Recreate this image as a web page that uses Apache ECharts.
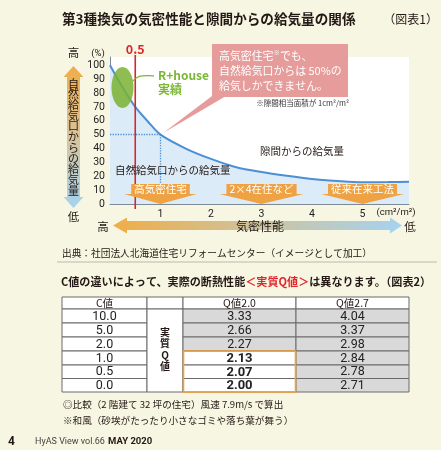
<!DOCTYPE html>
<html><head><meta charset="utf-8">
<script src="https://cdn.jsdelivr.net/npm/echarts/dist/echarts.min.js"></script>
<style>html,body{margin:0;padding:0;background:#f7f6e2;}#main{width:441px;height:450px;}</style>
</head><body><div id="main"></div>
<script>
// ---- data ----
const airtightness = [0, 0.25, 0.5, 0.75, 1, 1.5, 2, 2.5, 3, 3.5, 4, 4.5, 5, 5.5, 5.92];
const supplyPct    = [100, 84, 70, 59.5, 50, 40, 32.5, 26.5, 23, 20.3, 18, 16.6, 15.7, 15.8, 16];
const highlightC = 0.5;
const refPoint = [1, 50];
const markerX = [1, 3, 5];
const markerLabels = ['高気密住宅', '2×4在住など', '従来在来工法'];
const tableHeaders = ['C値', '', 'Q値2.0', 'Q値2.7'];
const cValues = ['10.0', '5.0', '2.0', '1.0', '0.5', '0.0'];
const q20Values = ['3.33', '2.66', '2.27', '2.13', '2.07', '2.00'];
const q27Values = ['4.04', '3.37', '2.98', '2.84', '2.78', '2.71'];

const JP = '"Noto Sans CJK JP"';
const TX = '#231815';
const chart = echarts.init(document.getElementById('main'), null, {renderer: 'canvas'});
const xMax = 5.92, yMax = 106;

chart.setOption({
  backgroundColor: '#f7f6e2',
  animation: false,
  grid: {left: 110, top: 57, right: 32, bottom: 246, show: true, backgroundColor: '#ffffff', borderWidth: 0},
  xAxis: {type: 'value', min: 0, max: xMax, interval: 1,
    axisLine: {show: true, lineStyle: {color: '#7d8a96', width: 1}},
    axisTick: {show: false}, splitLine: {show: false},
    axisLabel: {formatter: v => (v > 0 && Math.abs(v - Math.round(v)) < 1e-6) ? String(v) : '', color: '#222', fontSize: 10.5, margin: 5, fontFamily: 'Roboto'}},
  yAxis: {type: 'value', min: 0, max: yMax, interval: 10,
    axisLine: {show: true, lineStyle: {color: '#7d8a96', width: 1}},
    axisTick: {show: false}, splitLine: {show: false},
    axisLabel: {formatter: v => (v % 10 === 0 && v <= 100) ? String(v) : '', color: '#222', fontSize: 10.5, margin: 5, fontFamily: 'Roboto'}},
  series: [{
    type: 'line', smooth: 0.3, symbol: 'none',
    data: airtightness.map((x, i) => [x, supplyPct[i]]),
    lineStyle: {color: '#4b8fd6', width: 2},
    areaStyle: {color: '#dcebf8', opacity: 1},
    markLine: {silent: true, symbol: 'none', label: {show: false},
      lineStyle: {type: 'dotted', color: '#4b8fd6', width: 1.3},
      data: [[{coord: [0, refPoint[1]]}, {coord: refPoint}], [{coord: refPoint}, {coord: [refPoint[0], 0]}]]}
  }]
});

const px = (x, y) => chart.convertToPixel({gridIndex: 0}, [x, y]);
const mctx = document.createElement('canvas').getContext('2d');
function measure(t, font) { mctx.font = font; return mctx.measureText(t).width; }

function txt(text, x, y, o) {
  o = o || {};
  return {type: 'text', z: o.z || 100, style: {
    text: text, x: x, y: y, fill: o.fill || TX,
    font: (o.weight || 'normal') + ' ' + (o.size || 11) + 'px ' + (o.family || JP),
    align: o.align || 'left', verticalAlign: o.va || 'middle',
    lineHeight: o.lh, rich: o.rich}};
}

const g = [];
// Title
g.push(txt('第3種換気の気密性能と隙間からの給気量の関係', 62, 19, {size: 13.6, weight: 'bold'}));
g.push(txt('（図表1）', 438, 19, {size: 12, align: 'right'}));

// Left vertical gradient arrow
const ax = 73.5;
g.push({type: 'polygon', z: 50, shape: {points: [[ax, 66], [ax + 10, 77], [ax + 6.5, 77], [ax + 6.5, 197], [ax + 10, 197], [ax, 208], [ax - 10, 197], [ax - 6.5, 197], [ax - 6.5, 77], [ax - 10, 77]]},
  style: {fill: {type: 'linear', x: 0, y: 0, x2: 0, y2: 1, colorStops: [{offset: 0, color: '#f0ad48'}, {offset: 0.5, color: '#d7c49c'}, {offset: 1, color: '#a5d3f0'}]}}});
g.push(txt('自\n然\n給\n気\n口\nか\nら\nの\n給\n気\n量', ax, 137, {size: 11, align: 'center', lh: 10.7}));
g.push(txt('高', ax, 53, {size: 11.5, align: 'center'}));
g.push(txt('低', ax, 217, {size: 11.5, align: 'center'}));
g.push(txt('(%)', 98, 54, {size: 9.5, align: 'center', family: 'Roboto'}));

// Red highlight line at C=0.5
const r0 = px(highlightC, yMax), r1 = px(highlightC, 0);
g.push({type: 'line', z: 60, shape: {x1: r0[0], y1: r0[1] - 2, x2: r1[0], y2: r1[1] + 5}, style: {stroke: '#d7262d', lineWidth: 1.6}});
g.push(txt(String(highlightC), r0[0], 49, {size: 12.5, weight: 'bold', align: 'center', fill: '#d7262d'}));

// Green ellipse (R+house)
g.push({type: 'ellipse', z: 110, shape: {cx: 122.5, cy: 87.5, rx: 11, ry: 20.5}, style: {fill: 'rgba(122,178,50,0.85)'}});
g.push({type: 'polyline', z: 110, shape: {points: [[133, 81], [137, 77.5], [142, 75.8], [154, 75.8]], smooth: 0.4}, style: {stroke: '#7ab733', lineWidth: 1.2, fill: null}});
g.push(txt('R+house', 158, 75, {size: 12, weight: 'bold', fill: '#7ab733'}));
g.push(txt('実績', 158, 89.5, {size: 12, weight: 'bold', fill: '#7ab733'}));

// Callout
const tip = px(refPoint[0], refPoint[1]);
const cs = 10.9;
g.push({type: 'polygon', z: 105, shape: {points: [[212, 90], [226, 96], [tip[0] + 3, tip[1] - 2], [212, 96]]}, style: {fill: '#e59c9b'}});
g.push({type: 'rect', z: 105, shape: {x: 212, y: 44, width: 136, height: 53}, style: {fill: '#e59c9b'}});
g.push(txt('{a|高気密住宅}{s|※}{a|でも、}', 219, 56, {size: cs, fill: '#fff', z: 106,
  rich: {a: {fill: '#fff', color: '#fff', fontSize: cs, fontFamily: JP}, s: {fill: '#fff', color: '#fff', fontSize: 6.5, fontFamily: JP, padding: [0, 0, 7, 0]}}}));
g.push(txt('自然給気口からは 50%の', 219, 71, {size: cs, fill: '#fff', z: 106}));
g.push(txt('給気しかできません。', 219, 86, {size: cs, fill: '#fff', z: 106}));
g.push(txt('※隙間相当面積が 1cm²/m²', 349, 103, {size: 7.5, align: 'right', fill: '#333'}));

// Plot labels
g.push(txt('隙間からの給気量', 260, 151, {size: 10.5}));
g.push(txt('自然給気口からの給気量', 115, 170, {size: 10.5}));
g.push(txt('(cm²/m²)', 396, 213, {size: 9.5, align: 'center', family: 'Roboto'}));

// Orange down arrows
const aFont = 'normal 10.5px ' + JP;
markerX.forEach((mx, i) => {
  const p = px(mx, 0);
  const w = measure(markerLabels[i], aFont) + 6;
  const cx = p[0], by = p[1];
  g.push({type: 'polygon', z: 100, shape: {points: [
    [cx - w / 2, by - 20], [cx + w / 2, by - 20], [cx + w / 2, by - 10], [cx + w / 2 + 7, by - 10],
    [cx, by], [cx - w / 2 - 7, by - 10], [cx - w / 2, by - 10]]}, style: {fill: '#eea244'}});
  g.push(txt(markerLabels[i], cx, by - 14.5, {size: 10.5, align: 'center', fill: '#fff', z: 101}));
});

// Bottom horizontal gradient arrow
const hy = 225.5;
g.push({type: 'polygon', z: 50, shape: {points: [[113, hy], [127, hy - 8], [127, hy - 4.5], [390, hy - 4.5], [390, hy - 8], [402, hy], [390, hy + 8], [390, hy + 4.5], [127, hy + 4.5], [127, hy + 8]]},
  style: {fill: {type: 'linear', x: 0, y: 0, x2: 1, y2: 0, colorStops: [{offset: 0, color: '#f0ad48'}, {offset: 0.5, color: '#cdc39f'}, {offset: 1, color: '#a5d3f0'}]}}});
g.push(txt('気密性能', 260, hy + 1, {size: 12, align: 'center'}));
g.push(txt('高', 103, hy + 1, {size: 11.5, align: 'center'}));
g.push(txt('低', 410, hy + 1, {size: 11.5, align: 'center'}));

// Source & separator
g.push(txt('出典：社団法人北海道住宅リフォームセンター（イメージとして加工）', 62, 253, {size: 9.7}));
g.push({type: 'line', z: 50, shape: {x1: 57, y1: 262, x2: 437, y2: 262}, style: {stroke: '#b9b9b0', lineWidth: 1}});

// Section 2 title
const s2 = 11.1;
g.push(txt('{a|C値の違いによって、実際の断熱性能}{r|＜実質Q値＞}{a|は異なります。（図表2）}', 61, 282, {size: s2, weight: 'bold',
  rich: {a: {fill: TX, color: TX, fontSize: s2, fontWeight: 'bold', fontFamily: JP}, r: {fill: '#e0262c', color: '#e0262c', fontSize: s2, fontWeight: 'bold', fontFamily: JP}}}));

// Table
const colX = [62, 147, 183, 296, 409];
const rowY = [297, 309, 323, 337, 351, 365, 378.5, 392];
const border = '#6a6a6a';
const cols = [cValues, null, q20Values, q27Values];
for (let c = 0; c < 4; c++) {
  g.push({type: 'rect', z: 60, shape: {x: colX[c], y: rowY[0], width: colX[c + 1] - colX[c], height: rowY[1] - rowY[0]}, style: {fill: '#fff', stroke: border, lineWidth: 1}});
  if (tableHeaders[c]) g.push(txt(tableHeaders[c], (colX[c] + colX[c + 1]) / 2, (rowY[0] + rowY[1]) / 2, {size: 10.5, align: 'center', z: 70}));
  if (c === 1) {
    g.push({type: 'rect', z: 60, shape: {x: colX[1], y: rowY[1], width: colX[2] - colX[1], height: rowY[7] - rowY[1]}, style: {fill: '#fff', stroke: border, lineWidth: 1}});
    g.push(txt('実\n質\nQ\n値', (colX[1] + colX[2]) / 2, 349, {size: 10, weight: 'bold', align: 'center', lh: 11.5, z: 70}));
    continue;
  }
  for (let r = 0; r < 6; r++) {
    const grey = (c === 3) || (c === 2 && r < 3);
    const bold = (c === 2 && r >= 3);
    g.push({type: 'rect', z: 60, shape: {x: colX[c], y: rowY[r + 1], width: colX[c + 1] - colX[c], height: rowY[r + 2] - rowY[r + 1]},
      style: {fill: grey ? '#d9d9d9' : '#fff', stroke: border, lineWidth: 1}});
    g.push(txt(cols[c][r], (colX[c] + colX[c + 1]) / 2, (rowY[r + 1] + rowY[r + 2]) / 2 + 0.5,
      {size: bold ? 13 : 12.5, weight: bold ? 'bold' : 'normal', align: 'center', family: 'Roboto', z: 70, fill: '#222'}));
  }
}
g.push({type: 'rect', z: 80, shape: {x: colX[2] + 0.5, y: rowY[4], width: colX[3] - colX[2] - 1, height: rowY[7] - rowY[4]}, style: {fill: null, stroke: '#f0a040', lineWidth: 1.6}});

// Footnotes
g.push(txt('◎比較（2 階建て 32 坪の住宅）風速 7.9m/s で算出', 63, 404.5, {size: 9.6}));
g.push(txt('※和風（砂埃がたったり小さなゴミや落ち葉が舞う）', 63, 420, {size: 9.6}));

// Footer
g.push(txt('4', 8, 441.5, {size: 12, weight: 'bold', family: 'Roboto'}));
g.push(txt('HyAS View vol.66', 35, 441.5, {size: 9, fill: '#444', family: 'Roboto'}));
g.push(txt('MAY 2020', 108, 441.5, {size: 9.5, weight: 'bold', family: 'Roboto'}));

chart.setOption({graphic: g});
</script>
</body></html>
